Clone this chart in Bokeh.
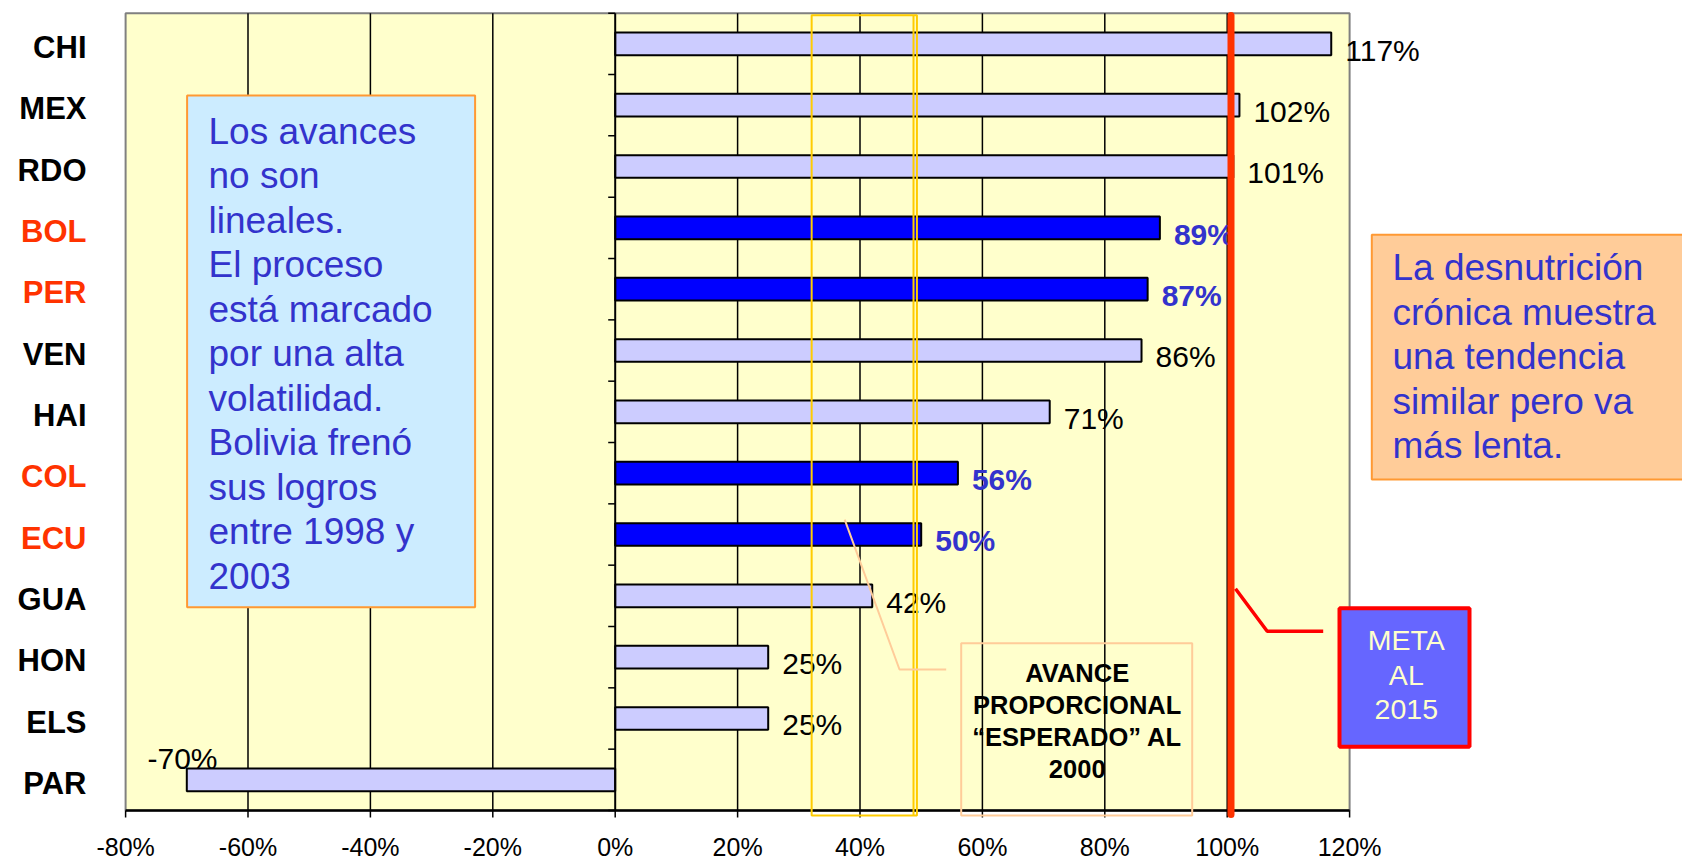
from bokeh.plotting import figure
from bokeh.models import ColumnDataSource, Range1d
from bokeh.core.properties import value
from bokeh.embed import file_html
from bokeh.resources import INLINE

# ---------------- data ----------------
countries = ["CHI", "MEX", "RDO", "BOL", "PER", "VEN", "HAI", "COL", "ECU", "GUA", "HON", "ELS", "PAR"]
values = [117, 102, 101, 89, 87, 86, 71, 56, 50, 42, 25, 25, -70]
highlight = ["BOL", "PER", "COL", "ECU"]
x_ticks = [-80, -60, -40, -20, 0, 20, 40, 60, 80, 100, 120]
x_tick_labels = [f"{t}%" for t in x_ticks]
meta_value = 100
expected_band = [32.1, 49.3]

left_note = ["Los avances", "no son", "lineales.", "El proceso", "está marcado",
             "por una alta", "volatilidad.", "Bolivia frenó", "sus logros",
             "entre 1998 y", "2003"]
right_note = ["La desnutrición", "crónica muestra", "una tendencia",
              "similar pero va", "más lenta."]
meta_note = ["META", "AL", "2015"]
band_note = ["AVANCE", "PROPORCIONAL", "\u201cESPERADO\u201d AL", "2000"]

# ---------------- layout helpers (page pixels -> data) ----------------
PX0 = 614.7     # page x of 0 %
PXU = 6.12      # pixels per 1 %
PY_TOP = 12.7   # page y of top of plot area
PYU = 61.33     # pixels per category band
FW, FH = 1682, 862
SHIFT = 0.34    # baseline correction (em)

n = len(countries)
x_start = -PX0 / PXU
x_end = x_start + FW / PXU
y_end = (n - 0.5) + PY_TOP / PYU
y_start = y_end - FH / PYU


def X(px):
    return x_start + px / PXU


def Y(py):
    return y_end - py / PYU


def B(py, fs):
    """data y for a text baseline wanted at page y `py` with font size fs"""
    return Y(py - SHIFT * fs)


FONT = value("Liberation Sans")
BLUE_TXT = "#3333CC"

p = figure(frame_width=FW, frame_height=FH,
           x_range=Range1d(x_start, x_end), y_range=Range1d(y_start, y_end),
           output_backend="svg", toolbar_location=None,
           x_axis_location=None, y_axis_location=None, min_border=0)
p.outline_line_color = None
p.xgrid.visible = False
p.ygrid.visible = False
p.background_fill_color = "white"
p.border_fill_color = "white"

ypos = [n - 1 - i for i in range(n)]
is_hl = [c in highlight for c in countries]

# plot area background and frame
p.quad(left=x_ticks[0], right=x_ticks[-1], bottom=-0.5, top=n - 0.5,
       fill_color="#FFFFCC", line_color="#808080", line_width=2)

# vertical grid lines
grid_vals = [t for t in x_ticks if t not in (x_ticks[0], 0, x_ticks[-1])]
p.segment(x0=grid_vals, y0=-0.5, x1=grid_vals, y1=n - 0.5,
          line_color="black", line_width=1.5)

# bars
src = ColumnDataSource(dict(
    y=ypos, v=values, c=countries,
    fill=["#0000FF" if h else "#CCCCFF" for h in is_hl],
    lab=[f"{v}%" for v in values],
    labcol=[BLUE_TXT if h else "black" for h in is_hl],
    labstyle=["bold" if h else "normal" for h in is_hl],
    catcol=["#FF3300" if h else "black" for h in is_hl],
))
p.hbar(y="y", left=0, right="v", height=0.37, fill_color="fill",
       line_color="black", line_width=2, source=src)

# zero axis with ticks at category boundaries
bounds = [k - 0.5 for k in range(n + 1)]
p.segment(x0=0, y0=-0.5, x1=0, y1=n - 0.5, line_color="black", line_width=2)
p.segment(x0=0, x1=-7 / PXU, y0=bounds, y1=bounds, line_color="black", line_width=1.5)

# bottom (x) axis: line, ticks, tick labels
p.segment(x0=x_ticks[0], x1=x_ticks[-1], y0=-0.5, y1=-0.5, line_color="black", line_width=2.5)
p.segment(x0=x_ticks, x1=x_ticks, y0=-0.5, y1=Y(817), line_color="black", line_width=1.5)
p.text(x=x_ticks, y=[B(854.5, 25)] * len(x_ticks), text=x_tick_labels,
       text_color="black", text_font=FONT, text_font_size=value("25px"),
       text_align="center", text_baseline="alphabetic")

# value labels
pos = [i for i in range(n) if values[i] >= 0]
neg = [i for i in range(n) if values[i] < 0]
pos_src = ColumnDataSource(dict(
    x=[values[i] + 14 / PXU for i in pos],
    y=[ypos[i] - (16.5 - SHIFT * 30) / PYU for i in pos],
    t=[src.data["lab"][i] for i in pos],
    col=[src.data["labcol"][i] for i in pos],
    st=[src.data["labstyle"][i] for i in pos],
))
p.text(x="x", y="y", text="t", text_color="col", text_font_style="st",
       text_font=FONT, text_font_size=value("30px"), text_align="left",
       text_baseline="alphabetic", source=pos_src)
neg_src = ColumnDataSource(dict(
    x=[values[i] - 4.3 / PXU for i in neg],
    y=[ypos[i] + (11.3 + SHIFT * 30) / PYU for i in neg],
    t=[src.data["lab"][i] for i in neg],
))
p.text(x="x", y="y", text="t", text_color="black", text_font=FONT,
       text_font_size=value("30px"), text_align="center",
       text_baseline="alphabetic", source=neg_src)

# category labels
cat_src = ColumnDataSource(dict(
    x=[X(86)] * n, y=[yy - (14.3 - SHIFT * 31) / PYU for yy in ypos], t=countries,
    col=src.data["catcol"],
))
p.text(x="x", y="y", text="t", text_color="col", text_font=FONT,
       text_font_style="bold", text_font_size=value("31px"), text_align="right",
       text_baseline="alphabetic", source=cat_src)

# expected-progress band (yellow frame)
p.quad(left=expected_band[0], right=expected_band[1], top=Y(14.7), bottom=Y(815),
       fill_color=None, line_color="#FFCC00", line_width=2)
p.segment(x0=expected_band[1] - 3.4 / PXU, x1=expected_band[1] - 3.4 / PXU,
          y0=Y(14.7), y1=Y(815), line_color="#FFCC00", line_width=2)

# target line (100 %)
p.segment(x0=meta_value + 3.8 / PXU, x1=meta_value + 3.8 / PXU, y0=Y(15), y1=Y(814),
          line_color="#FF3300", line_width=7, line_cap="round")

# "AVANCE PROPORCIONAL" box and callout
p.quad(left=X(960.7), right=X(1191.7), top=Y(642.7), bottom=Y(815),
       fill_color=None, line_color="#FFCC99", line_width=2)
p.text(x=[X(1076.7)] * len(band_note),
       y=[B(681.4 + i * 32, 25.5) for i in range(len(band_note))],
       text=band_note, text_color="black", text_font=FONT, text_font_style="bold",
       text_font_size=value("25.5px"), text_align="center", text_baseline="alphabetic")
p.line(x=[X(945.7), X(899), X(844.2)], y=[Y(669), Y(669), Y(519.2)],
       line_color="#FFCC99", line_width=2)

# red connector to META box
p.line(x=[X(1235), X(1266.7), X(1322.7)], y=[Y(588.3), Y(630.7), Y(630.7)],
       line_color="#FF0000", line_width=3.5)

# left note box
p.quad(left=X(186.6), right=X(474.6), top=Y(95), bottom=Y(606.7),
       fill_color="#CCECFF", line_color="#FF9933", line_width=2)
p.text(x=[X(208)] * len(left_note),
       y=[B(143.3 + i * 44.5, 37) for i in range(len(left_note))],
       text=left_note, text_color=BLUE_TXT, text_font=FONT,
       text_font_size=value("37px"), text_align="left", text_baseline="alphabetic")

# right note box
p.quad(left=X(1371.3), right=X(1700), top=Y(234.3), bottom=Y(479),
       fill_color="#FFCC99", line_color="#FF9933", line_width=2)
p.text(x=[X(1392)] * len(right_note),
       y=[B(280 + i * 44.5, 37) for i in range(len(right_note))],
       text=right_note, text_color=BLUE_TXT, text_font=FONT,
       text_font_size=value("37px"), text_align="left", text_baseline="alphabetic")

# META box
p.quad(left=X(1339), right=X(1469), top=Y(607.7), bottom=Y(746.3),
       fill_color="#6666FF", line_color="#FF0000", line_width=4)
p.text(x=[X(1405.8)] * len(meta_note),
       y=[B(649.5 + i * 34.5, 28.5) for i in range(len(meta_note))],
       text=meta_note, text_color="#FFFFCC", text_font=FONT,
       text_font_size=value("28.5px"), text_align="center", text_baseline="alphabetic")

open("out.html", "w").write(file_html(p, INLINE))
